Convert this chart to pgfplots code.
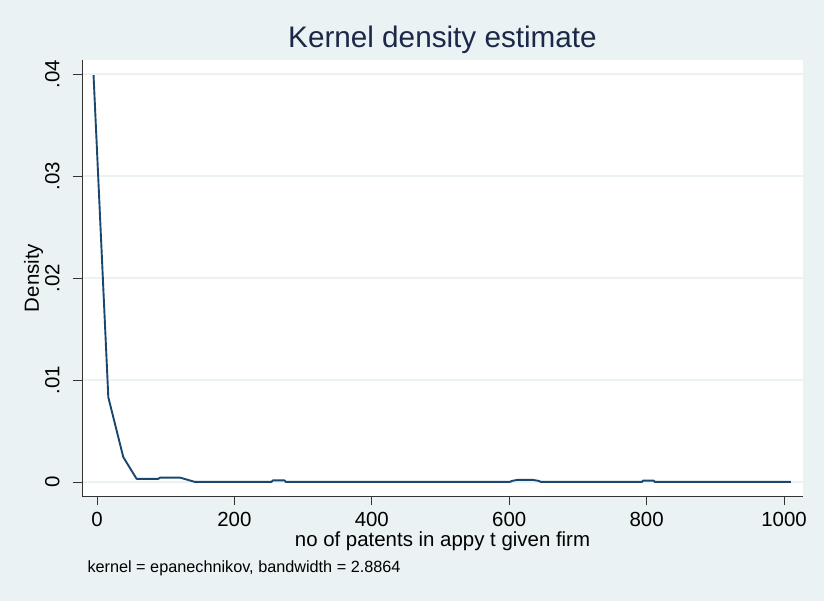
\documentclass[border=0pt]{standalone}
\usepackage{fontspec}
\setmainfont{Liberation Sans}
\usepackage{pgfplots}
\pgfplotsset{compat=1.18}

\definecolor{bgcol}{RGB}{234,242,243}
\definecolor{gridcol}{RGB}{234,242,243}
\definecolor{linecol}{RGB}{26,71,111}
\definecolor{titlecol}{RGB}{28,40,72}

\begin{document}
\begin{tikzpicture}[x=1bp,y=1bp]
% graph region and plot region
\fill[bgcol] (-82,-105) rectangle (742,496);
\fill[white] (0,0) rectangle (721,436);
\begin{axis}[
    at={(0,0)}, anchor=south west,
    scale only axis,
    width=721bp, height=436bp,
    xmin=-21.8, xmax=1027.6,
    ymin=-0.00138, ymax=0.04138,
    axis x line*=bottom,
    axis y line*=left,
    axis line style={black!80, line width=0.8bp, -},
    xtick={0,200,400,600,800,1000},
    ytick={0,0.01,0.02,0.03,0.04},
    yticklabels={0,.01,.02,.03,.04},
    scaled y ticks=false,
    /pgf/number format/1000 sep={},
    tick align=outside,
    major tick length=9bp,
    tick style={black!80, line width=0.8bp},
    ymajorgrids,
    grid style={gridcol, line width=1.5bp},
    /pgf/number format/assume math mode=true,
    ticklabel style={font=\fontsize{20.5}{24}\selectfont},
    xticklabel style={anchor=north, yshift=-4bp},
    yticklabel style={xshift=-10bp, rotate=90, anchor=south},
    xlabel={no of patents in appy t given firm},
    ylabel={Density},
    every axis x label/.style={at={(axis description cs:0.5,-0.1048)}, anchor=center, font=\fontsize{20.5}{24}\selectfont},
    every axis y label/.style={at={(axis description cs:-0.067,0.5)}, rotate=90, anchor=center, font=\fontsize{20.5}{24}\selectfont},
    title={Kernel density estimate},
    every axis title/.style={at={(axis description cs:0.5,1.0459)}, anchor=center, font=\fontsize{29.8}{34}\selectfont, text=titlecol},
    clip=false,
  ]
  \addplot[color=linecol, line width=1.9bp, mark=none, line join=round] coordinates {
    (-5,0.0399)
    (16.5,0.0083)
    (38.3,0.00243)
    (57.7,0.0003)
    (89,0.0003)
    (92,0.00042)
    (121,0.00042)
    (142.6,0)
    (254,0)
    (256,0.00015)
    (273,0.00015)
    (275,0)
    (601,0)
    (604,0.0001)
    (612,0.0002)
    (634,0.0002)
    (643,0.0001)
    (646,0)
    (793,0)
    (795,0.00013)
    (810,0.00013)
    (812,0)
    (1010,0)
  };
\end{axis}
\node[anchor=west, font=\fontsize{16.3}{19}\selectfont] at (2,-72) {kernel = epanechnikov, bandwidth = 2.8864};
\end{tikzpicture}
\end{document}
